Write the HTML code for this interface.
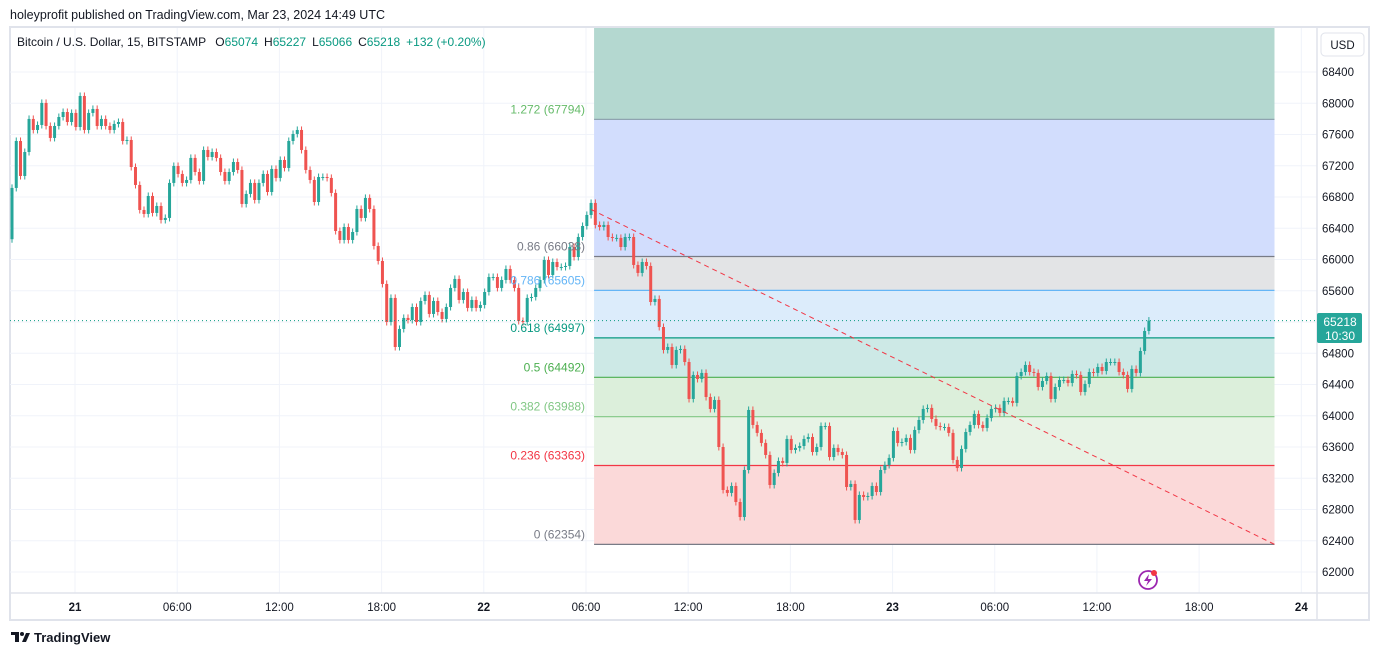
<!DOCTYPE html>
<html><head><meta charset="utf-8"><style>
body{margin:0;background:#fff;font-family:"Liberation Sans",sans-serif;}
svg{display:block}
</style></head><body>
<svg id="c" width="1379" height="656" xmlns="http://www.w3.org/2000/svg">
<text x="10" y="19" font-size="12.5" fill="#131722">holeyprofit published on TradingView.com, Mar 23, 2024 14:49 UTC</text>
<rect x="10" y="27" width="1359" height="593" fill="none" stroke="#e0e3eb" stroke-width="2"/>
<g id="grid"></g>
<g id="fib"></g>
<g id="candles"></g>
<g id="overlay"></g>
<line x1="1317" y1="27" x2="1317" y2="620" stroke="#e0e3eb" stroke-width="1.5"/>
<line x1="10" y1="593" x2="1369" y2="593" stroke="#e0e3eb" stroke-width="1.5"/>
<g id="axes" font-size="11.5" fill="#131722"></g>
<text x="17" y="46" font-size="12" fill="#131722">Bitcoin / U.S. Dollar, 15, BITSTAMP <tspan dx="6">O</tspan><tspan fill="#089981">65074</tspan><tspan dx="6">H</tspan><tspan fill="#089981">65227</tspan><tspan dx="6">L</tspan><tspan fill="#089981">65066</tspan><tspan dx="6">C</tspan><tspan fill="#089981">65218</tspan><tspan dx="6" fill="#089981">+132 (+0.20%)</tspan></text>
<g><rect x="1321" y="33" width="43" height="23" rx="4" fill="#fff" stroke="#e0e3eb"/><text x="1342.5" y="49" font-size="11.5" text-anchor="middle" fill="#131722">USD</text></g>
<g><rect x="1317" y="313" width="45" height="30" rx="2" fill="#26a69a"/><text x="1340" y="326" font-size="12" text-anchor="middle" fill="#fff">65218</text><text x="1340" y="340" font-size="12" text-anchor="middle" fill="#fff">10:30</text></g>
<g><circle cx="1148" cy="580" r="9" fill="none" stroke="#9c27b0" stroke-width="1.8"/><path d="M1149 574 L1144 581 L1148 581 L1146 586 L1152 579 L1148 579 Z" fill="#9c27b0"/><circle cx="1154" cy="573" r="3" fill="#f23645"/></g>
<g><path d="M11 632 h8 v10 h-4 v-7 h-4z" fill="#131722"/><circle cx="22" cy="634" r="2" fill="#131722"/><path d="M22 642 l4 -9 h4 l-4 9z" fill="#131722"/><text x="34" y="642" font-size="13" fill="#131722" font-weight="bold">TradingView</text></g>
</svg>
<script>
const firstOpen = 66260;
const closes = [66916,67517,67069,67376,67799,67658,67722,68004,67709,67556,67709,67824,67888,67760,67876,67696,68093,67658,67876,67927,67709,67799,67709,67658,67735,67760,67517,67530,67184,66954,66634,66583,66813,66596,66685,66506,66532,66980,67197,67095,66980,67018,67300,67120,67005,67402,67312,67376,67300,67120,67005,67120,67248,67146,66711,66839,66980,66762,66980,67095,66864,67159,67044,67274,67172,67517,67607,
67658,67402,67146,67018,66736,67056,67056,67044,66852,66365,66250,66416,66250,66352,66647,66532,66788,66647,66173,65981,65687,65200,65508,64880,65111,65252,65226,65392,65200,65469,65546,65303,65469,65328,65239,65392,65636,65751,65482,65584,65380,65482,65380,65418,65584,65776,65776,65636,65738,65879,65738,65636,65213,65200,65508,65520,65636,65738,65994,65802,65968,65904,65904,65917,66160,66032,66288,66429,66570,66724,
66442,66416,66442,66288,66276,66276,66160,66288,66288,65930,65828,65968,65917,65456,65495,65136,64842,64880,64650,64842,64855,64688,64215,64522,64471,64548,64240,64087,64202,63600,63050,63012,63101,62896,62704,63306,64074,63882,63780,63652,63498,63114,63268,63421,63396,63703,63562,63588,63613,63703,63728,63536,63600,63869,63869,63472,63588,63536,63498,63088,63127,62666,62986,62960,62973,63101,63024,63306,63370,63460,63805,63652,63664,63716,63562,63818,63946,64087,64100,63959,63869,63856,63856,63780,63434,63332,63575,63792,63882,64023,63882,63844,63972,64087,64100,64036,64189,64189,64164,64509,64560,64650,64560,64548,64368,64445,64509,64215,64368,64458,64458,64420,64535,64522,64304,64407,64560,64548,64624,64573,64688,64688,64688,64560,64522,64343,64599,64548,64829,65085,65218];
const priceTicks = [62000,62400,62800,63200,63600,64000,64400,64800,65200,65600,66000,66400,66800,67200,67600,68000,68400];
const timeLabels = ["21","06:00","12:00","18:00","22","06:00","12:00","18:00","23","06:00","12:00","18:00","24"];
const fibRatios = ["1.272","0.86","0.786","0.618","0.5","0.382","0.236","0"];
const fibPrices = [67794,66038,65605,64997,64492,63988,63363,62354];
const trendStart = [136, 66640];
const trendEnd = [296.5, 62354];
const lastPrice = 65218;

const NS="http://www.w3.org/2000/svg";
const X0=12, STEP=4.258, firstMidnight=14.8, candlesPerLabel=24;
const xS=i=>X0+i*STEP;
const yS=p=>72+(68400-p)*(500/6400);
function mk(tag,attrs,parent){const e=document.createElementNS(NS,tag);for(const k in attrs)e.setAttribute(k,attrs[k]);parent.appendChild(e);return e;}
const gridG=document.getElementById('grid'),fibG=document.getElementById('fib'),candleG=document.getElementById('candles'),overG=document.getElementById('overlay'),axesG=document.getElementById('axes');

priceTicks.forEach(p=>{const y=yS(p);
 const l=mk('line',{x1:10,x2:1317,y1:y,y2:y,stroke:'#f0f3fa','stroke-width':1},gridG);
 
 
 const t=mk('text',{x:1338,y:y+4,'text-anchor':'middle'},axesG);t.textContent=p;
 
 
});
timeLabels.forEach((s,k)=>{const x=xS(firstMidnight+k*candlesPerLabel);
 const l=mk('line',{x1:x,x2:x,y1:28,y2:593,stroke:'#f0f3fa','stroke-width':1},gridG);
 
 
 const bold=!s.includes(':');
 const t=mk('text',{x:x,y:611,'text-anchor':'middle','font-weight':bold?'bold':'normal'},axesG);t.textContent=s;
 
 
});

const fx1=xS(136.7), fx2=xS(296.5);
const fibFills=['#d2ddfd','#e3e4e6','#dcecfb','#cde9e6','#dcefdb','#e7f3e5','#fbd9d9'];
const fibLineCols=['#8fa3b0','#787b86','#64b5f6','#089981','#4caf50','#81c784','#f23645','#787b86'];
const fibLabCols=['#66bb6a','#787b86','#64b5f6','#089981','#4caf50','#81c784','#f23645','#787b86'];
const fibTopZone=mk('rect',{x:fx1,y:28,width:fx2-fx1,height:yS(fibPrices[0])-28,fill:'#b4d8d0'},fibG);


for(let k=0;k<fibPrices.length-1;k++){
 const r=mk('rect',{x:fx1,y:yS(fibPrices[k]),width:fx2-fx1,height:yS(fibPrices[k+1])-yS(fibPrices[k]),fill:fibFills[k]},fibG);
 
 
}
fibPrices.forEach((p,k)=>{const y=yS(p);
 const l=mk('line',{x1:fx1,x2:fx2,y1:y,y2:y,stroke:fibLineCols[k],'stroke-width':1.2},fibG);
 
 
 const t=mk('text',{x:fx1-9,y:y-6,'text-anchor':'end','font-size':12,fill:fibLabCols[k]},overG);
 t.textContent=fibRatios[k]+' ('+p+')';
 
 
});

const bw=3;
let prevClose=firstOpen;
closes.forEach((c,i)=>{
 const o=prevClose; prevClose=c;
 const up=c>=o; const col=up?'#26a69a':'#ef5350';
 const x=xS(i);
 const hi=Math.max(o,c)+45, lo=Math.min(o,c)-45;
 const w=mk('line',{x1:x,x2:x,y1:yS(hi),y2:yS(lo),stroke:col,'stroke-width':1},candleG);
 
 
 const yt=yS(Math.max(o,c)), h=Math.max(1,yS(Math.min(o,c))-yt);
 const b=mk('rect',{x:x-bw/2,y:yt,width:bw,height:h,fill:col},candleG);
 
 
});

const trendLine=mk('line',{x1:xS(trendStart[0]),y1:yS(trendStart[1]),x2:xS(trendEnd[0]),y2:yS(trendEnd[1]),stroke:'#f23645','stroke-width':1,'stroke-dasharray':'5 4'},overG);


const priceLine=mk('line',{x1:10,x2:1317,y1:yS(lastPrice),y2:yS(lastPrice),stroke:'#089981','stroke-width':1,'stroke-dasharray':'1 3'},overG);


</script>
</body></html>
